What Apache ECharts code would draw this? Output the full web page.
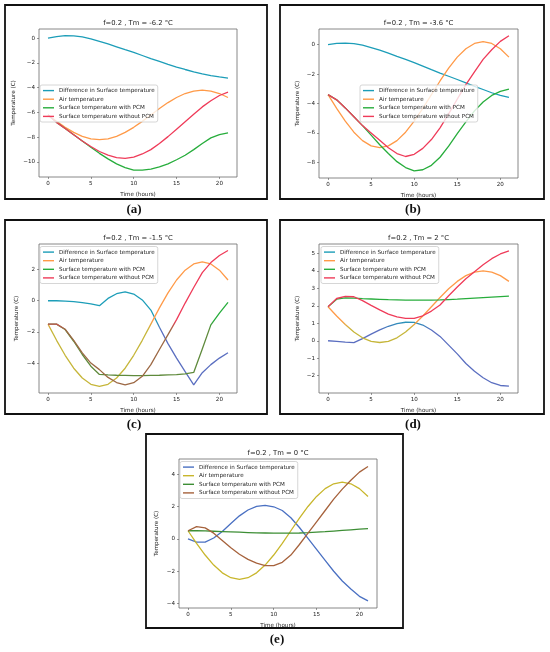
<!DOCTYPE html>
<html><head><meta charset="utf-8">
<script src="https://cdn.jsdelivr.net/npm/echarts@6/dist/echarts.min.js"></script>
<style>html,body{margin:0;padding:0;background:#fff;}#c{width:550px;height:652px;}</style>
</head><body><div id="c"></div>
<script>
// ---------- data ----------
const hours = [0,1,2,3,4,5,6,7,8,9,10,11,12,13,14,15,16,17,18,19,20,21];
const seriesNames = ['Difference in Surface temperature','Air temperature','Surface temperature with PCM','Surface temperature without PCM'];
const titles = ['f=0.2 , Tm = -6.2 °C','f=0.2 , Tm = -3.6 °C','f=0.2 , Tm = -1.5 °C','f=0.2 , Tm = 2 °C','f=0.2 , Tm = 0 °C'];
const panelLabels = ['(a)','(b)','(c)','(d)','(e)'];
const xTicks = [0,5,10,15,20];

// (a) Tm = -6.2
const diffA  = [0,0.13,0.2,0.19,0.1,-0.05,-0.25,-0.47,-0.7,-0.93,-1.15,-1.4,-1.65,-1.88,-2.12,-2.33,-2.53,-2.72,-2.88,-3.02,-3.13,-3.22];
const airA   = [-6.2,-6.72,-7.2,-7.61,-7.93,-8.13,-8.2,-8.13,-7.93,-7.61,-7.2,-6.72,-6.2,-5.68,-5.2,-4.79,-4.47,-4.27,-4.2,-4.27,-4.47,-4.79];
const pcmA   = [-6.2,-6.8,-7.3,-7.8,-8.3,-8.8,-9.3,-9.75,-10.15,-10.45,-10.65,-10.65,-10.57,-10.4,-10.15,-9.82,-9.45,-9.0,-8.5,-8.05,-7.78,-7.64];
const noPcmA = [-6.2,-6.8,-7.3,-7.8,-8.3,-8.75,-9.15,-9.45,-9.65,-9.7,-9.6,-9.35,-9.0,-8.5,-7.95,-7.35,-6.75,-6.15,-5.55,-5.05,-4.63,-4.36];
const yTicksA = [-10,-8,-6,-4,-2,0];

// (b) Tm = -3.6
const diffB  = [0,0.09,0.1,0.06,-0.04,-0.2,-0.38,-0.58,-0.8,-1.0,-1.22,-1.46,-1.7,-1.93,-2.15,-2.37,-2.6,-2.83,-3.05,-3.27,-3.45,-3.58];
const airB   = [-3.4,-4.33,-5.2,-5.95,-6.52,-6.88,-7.0,-6.88,-6.52,-5.95,-5.2,-4.33,-3.4,-2.47,-1.6,-0.85,-0.28,0.08,0.2,0.08,-0.28,-0.85];
const pcmB   = [-3.4,-3.75,-4.3,-4.9,-5.5,-6.15,-6.8,-7.4,-7.95,-8.35,-8.58,-8.5,-8.2,-7.65,-6.9,-6.05,-5.25,-4.5,-3.9,-3.45,-3.18,-3.02];
const noPcmB = [-3.4,-3.75,-4.3,-4.9,-5.5,-6.0,-6.5,-7.0,-7.4,-7.6,-7.45,-7.05,-6.45,-5.65,-4.7,-3.7,-2.72,-1.85,-1.0,-0.35,0.22,0.6];
const yTicksB = [-8,-6,-4,-2,0];

// (c) Tm = -1.5
const diffC  = [0,0,-0.02,-0.06,-0.12,-0.2,-0.32,0.15,0.45,0.57,0.43,0.05,-0.6,-1.7,-2.75,-3.68,-4.55,-5.4,-4.62,-4.1,-3.68,-3.34];
const airC   = [-1.5,-2.54,-3.5,-4.33,-4.96,-5.36,-5.5,-5.36,-4.96,-4.33,-3.5,-2.54,-1.5,-0.46,0.5,1.33,1.96,2.36,2.5,2.36,1.96,1.33];
const pcmC   = [-1.5,-1.5,-1.85,-2.6,-3.45,-4.2,-4.73,-4.76,-4.78,-4.79,-4.8,-4.8,-4.79,-4.78,-4.76,-4.74,-4.69,-4.6,-3.1,-1.55,-0.8,-0.1];
const noPcmC = [-1.5,-1.5,-1.83,-2.55,-3.35,-4.0,-4.42,-4.92,-5.25,-5.4,-5.26,-4.85,-4.1,-3.13,-2.17,-1.21,-0.15,0.85,1.8,2.45,2.9,3.22];
const yTicksC = [-4,-2,0,2];

// (d) Tm = 2
const diffD  = [0,-0.04,-0.08,-0.11,0.12,0.38,0.62,0.83,0.98,1.06,1.05,0.9,0.62,0.25,-0.25,-0.75,-1.3,-1.75,-2.12,-2.4,-2.56,-2.6];
const airD   = [1.95,1.42,0.93,0.5,0.17,-0.03,-0.1,-0.03,0.17,0.5,0.93,1.42,1.95,2.48,2.98,3.4,3.73,3.93,4.0,3.93,3.73,3.4];
const pcmD   = [1.95,2.38,2.46,2.44,2.41,2.39,2.37,2.35,2.34,2.33,2.33,2.33,2.33,2.34,2.36,2.38,2.41,2.44,2.47,2.5,2.53,2.56];
const noPcmD = [1.95,2.42,2.54,2.52,2.3,2.03,1.77,1.53,1.37,1.28,1.28,1.43,1.7,2.05,2.58,3.08,3.55,3.95,4.35,4.7,4.97,5.15];
const yTicksD = [-2,-1,0,1,2,3,4,5];

// (e) Tm = 0
const diffE  = [0,-0.2,-0.2,0.05,0.45,0.95,1.42,1.78,2.0,2.07,1.98,1.75,1.3,0.7,0.03,-0.65,-1.33,-2.0,-2.6,-3.1,-3.55,-3.83];
const airE   = [0.5,-0.28,-1.0,-1.62,-2.1,-2.4,-2.5,-2.4,-2.1,-1.62,-1.0,-0.28,0.5,1.28,2.0,2.62,3.1,3.4,3.5,3.4,3.1,2.62];
const pcmE   = [0.5,0.5,0.49,0.47,0.45,0.43,0.41,0.39,0.37,0.36,0.35,0.35,0.35,0.36,0.38,0.41,0.44,0.48,0.52,0.56,0.6,0.63];
const noPcmE = [0.5,0.75,0.68,0.35,-0.1,-0.55,-0.95,-1.27,-1.5,-1.65,-1.65,-1.45,-1.0,-0.35,0.35,1.05,1.75,2.45,3.07,3.62,4.12,4.47];
const yTicksE = [-4,-2,0,2,4];

// ---------- layout / style ----------
const FONT = 'DejaVu Sans';
const palAB = ['#1c9db8','#ff9a48','#27ad3c','#ef3b59'];
const palShift = ['#5a6ec0','#c6b63a','#5f8a3c','#9c6844'];
const palE  = ['#4a70c2','#c8b62c','#3d8e35','#a6623c'];
const panels = [
  {data:[diffA,airA,pcmA,noPcmA], yTicks:yTicksA, ymin:-11.21, ymax:0.74, grid:{left:39,top:29,width:198,height:148}, legend:{left:40,top:85}, nameGap:22, pal:palAB, box:[5,5,262,194], lab:[134,210]},
  {data:[diffB,airB,pcmB,noPcmB], yTicks:yTicksB, ymin:-9.06, ymax:1.06, grid:{left:319,top:29,width:199,height:149}, legend:{left:360,top:85}, nameGap:18, pal:palAB, box:[280,5,264,194], lab:[413,210]},
  {data:[diffC,airC,pcmC,noPcmC], yTicks:yTicksC, ymin:-5.92, ymax:3.64, grid:{left:39,top:244,width:198,height:149}, legend:{left:40,top:246.5}, nameGap:19, pal:palAB, shift:[320,330], box:[5,220,262,194], lab:[134,425]},
  {data:[diffD,airD,pcmD,noPcmD], yTicks:yTicksD, ymin:-2.99, ymax:5.54, grid:{left:319,top:244,width:199,height:149}, legend:{left:321,top:246.5}, nameGap:18, pal:palAB, shift:[320,330], box:[280,220,264,194], lab:[413,425]},
  {data:[diffE,airE,pcmE,noPcmE], yTicks:yTicksE, ymin:-4.27, ymax:4.93, grid:{left:179,top:459,width:198,height:149}, legend:{left:180,top:461.5}, nameGap:19, pal:palE, box:[146,434,257,194], lab:[277,640]}
];

const fmt = v => String(v).replace('-', '\u2212');
const option = {
  animation:false,
  backgroundColor:'#fff',
  title:[], grid:[], xAxis:[], yAxis:[], legend:[], series:[], graphic:[]
};

panels.forEach((p, i) => {
  option.grid.push(Object.assign({show:true, borderColor:'#6a6a6a', borderWidth:0.8, backgroundColor:'transparent'}, p.grid));
  option.title.push({
    text:titles[i], left:p.grid.left + p.grid.width/2, top:p.grid.top - 9.5, textAlign:'center', padding:0,
    textStyle:{fontFamily:FONT, fontSize:6.8, fontWeight:'normal', color:'#222'}
  });
  option.xAxis.push({
    type:'value', gridIndex:i, min:-1.05, max:22.05,
    name:'Time (hours)', nameLocation:'middle', nameGap:14.5,
    nameTextStyle:{fontFamily:FONT, fontSize:5.6, color:'#222'},
    axisLine:{show:false, onZero:false}, splitLine:{show:false},
    axisTick:{show:true, length:2, lineStyle:{color:'#555', width:0.6}, customValues:xTicks},
    axisLabel:{fontFamily:FONT, fontSize:5.6, color:'#222', margin:4, customValues:xTicks, formatter:fmt}
  });
  option.yAxis.push({
    type:'value', gridIndex:i, min:p.ymin, max:p.ymax,
    name:'Temperature (C)', nameLocation:'middle', nameGap:p.nameGap, nameRotate:90,
    nameTextStyle:{fontFamily:FONT, fontSize:5.6, color:'#222'},
    axisLine:{show:false, onZero:false}, splitLine:{show:false},
    axisTick:{show:true, length:2, lineStyle:{color:'#555', width:0.6}, customValues:p.yTicks},
    axisLabel:{fontFamily:FONT, fontSize:5.6, color:'#222', margin:4, customValues:p.yTicks, formatter:fmt}
  });
  p.data.forEach((arr, k) => {
    let col = p.pal[k];
    if (p.shift) {
      col = {type:'linear', x:0, y:p.shift[0], x2:0, y2:p.shift[1], global:true,
             colorStops:[{offset:0, color:p.pal[k]}, {offset:1, color:palShift[k]}]};
    }
    option.series.push({
      type:'line', name:seriesNames[k], xAxisIndex:i, yAxisIndex:i,
      data:hours.map((h, j) => [h, arr[j]]),
      symbol:'none', smooth:false, z:2,
      lineStyle:{color:col, width:1.3},
      itemStyle:{color:p.pal[k]}
    });
  });
  option.legend.push({
    left:p.legend.left, top:p.legend.top, orient:'vertical',
    icon:'rect', itemWidth:11, itemHeight:1.4, itemGap:2.4,
    padding:[2.5,3,2.5,3], backgroundColor:'rgba(255,255,255,0.8)',
    borderColor:'#cccccc', borderWidth:0.8, borderRadius:2,
    textStyle:{fontFamily:FONT, fontSize:5.6, lineHeight:6.2, color:'#222'},
    selectedMode:false,
    data:seriesNames.map((n, k) => ({name:n, itemStyle:{color:p.pal[k]}, lineStyle:{color:p.pal[k]}}))
  });
  option.graphic.push({
    type:'rect', shape:{x:p.box[0], y:p.box[1], width:p.box[2], height:p.box[3]},
    style:{fill:'none', stroke:'#111', lineWidth:1.8}, silent:true
  });
  option.graphic.push({
    type:'text', x:p.lab[0], y:p.lab[1],
    style:{text:panelLabels[i], fill:'#111', font:'bold 13px "Liberation Serif"', align:'center', verticalAlign:'middle'}, silent:true
  });
});

const chart = echarts.init(document.getElementById('c'));
chart.setOption(option);
</script>
</body></html>
